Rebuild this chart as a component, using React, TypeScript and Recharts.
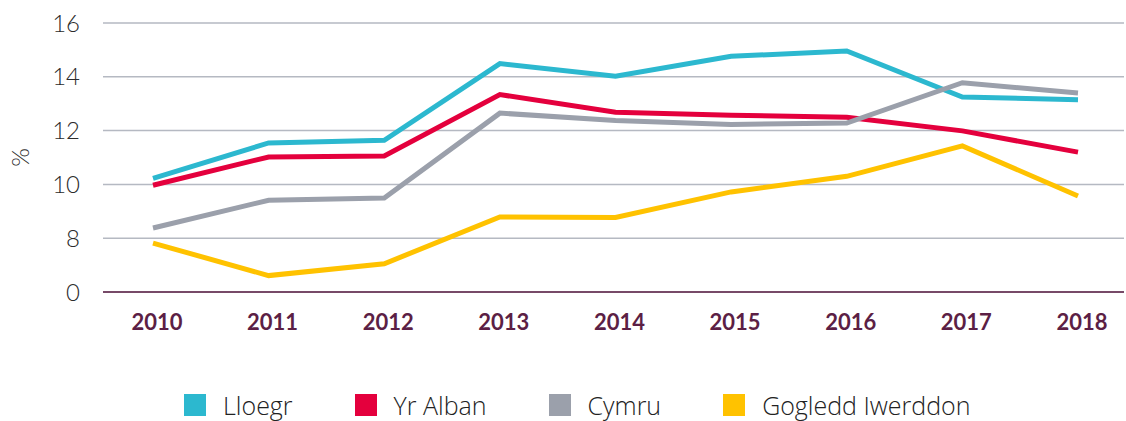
import React from 'react';
import { LineChart, Line, XAxis, YAxis, CartesianGrid, Label } from 'recharts';

// Years on the x axis
const years = ['2010', '2011', '2012', '2013', '2014', '2015', '2016', '2017', '2018'];

// Share (%) per nation
const lloegr = [10.22, 11.54, 11.64, 14.49, 14.02, 14.76, 14.96, 13.25, 13.15];
const yrAlban = [9.97, 11.02, 11.06, 13.34, 12.68, 12.57, 12.5, 11.99, 11.2];
const cymru = [8.38, 9.41, 9.49, 12.65, 12.38, 12.23, 12.28, 13.78, 13.4];
const gogleddIwerddon = [7.82, 6.61, 7.05, 8.79, 8.77, 9.72, 10.3, 11.43, 9.57];

// The axis is broken: its lowest tick (6) is labelled 0
const yTicks = [6, 8, 10, 12, 14, 16];
const yTickLabels = ['0', '8', '10', '12', '14', '16'];

const series = [
  { key: 'lloegr', name: 'Lloegr', color: '#2cb8cf', values: lloegr },
  { key: 'yrAlban', name: 'Yr Alban', color: '#e4003d', values: yrAlban },
  { key: 'cymru', name: 'Cymru', color: '#9ba0ab', values: cymru },
  { key: 'gogledd', name: 'Gogledd Iwerddon', color: '#ffc200', values: gogleddIwerddon },
];

const data = years.map((year, i) => {
  const row: Record<string, string | number> = { year };
  series.forEach((s) => {
    row[s.key] = s.values[i];
  });
  return row;
});

const font = 'Lato, "Open Sans", sans-serif';
const legendFont = '"Open Sans", Lato, sans-serif';

export default function App() {
  return (
    <div style={{ position: 'absolute', left: 0, top: 0, width: 1126, height: 421, background: '#fff', fontFamily: font }}>
      <LineChart width={1126} height={421} data={data} margin={{ top: 23, right: 2, bottom: 79, left: 0 }}>
        <CartesianGrid vertical={false} stroke="#b5b9c2" strokeWidth={1.5} />
        <XAxis
          dataKey="year"
          height={50}
          padding={{ left: 50, right: 46 }}
          axisLine={{ stroke: '#5c1f45', strokeWidth: 1.5 }}
          tickLine={false}
          tickSize={0}
          tickMargin={22}
          tick={{ fill: '#5c1f45', fontSize: 22, fontWeight: 700, fontFamily: font, dx: 4 }}
        />
        <YAxis
          domain={[6, 16]}
          ticks={yTicks}
          width={103}
          axisLine={false}
          tickLine={false}
          tickSize={0}
          tickMargin={23}
          tickFormatter={(v: number) => yTickLabels[yTicks.indexOf(v)]}
          tick={{ fill: '#2b2b2b', fontSize: 24, fontFamily: font, fontWeight: 300 }}
        >
          <Label
            value="%"
            angle={-90}
            position="insideLeft"
            offset={20}
            style={{ fill: '#2b2b2b', fontSize: 24, fontFamily: font, fontWeight: 300, textAnchor: 'middle' }}
          />
        </YAxis>
        {series.map((s) => (
          <Line
            key={s.key}
            dataKey={s.key}
            name={s.name}
            stroke={s.color}
            strokeWidth={5}
            dot={false}
            activeDot={false}
            type="linear"
            isAnimationActive={false}
          />
        ))}
      </LineChart>
      <div style={{ position: 'absolute', top: 393, left: 184, display: 'flex', alignItems: 'center', fontFamily: legendFont }}>
        {series.map((s, i) => (
          <div key={s.key} style={{ display: 'flex', alignItems: 'center', marginLeft: i === 0 ? 0 : 62 }}>
            <span style={{ width: 22, height: 22, background: s.color, display: 'inline-block' }} />
            <span style={{ marginLeft: 17, fontSize: 25, fontWeight: 300, color: '#222', lineHeight: '24px' }}>{s.name}</span>
          </div>
        ))}
      </div>
    </div>
  );
}
